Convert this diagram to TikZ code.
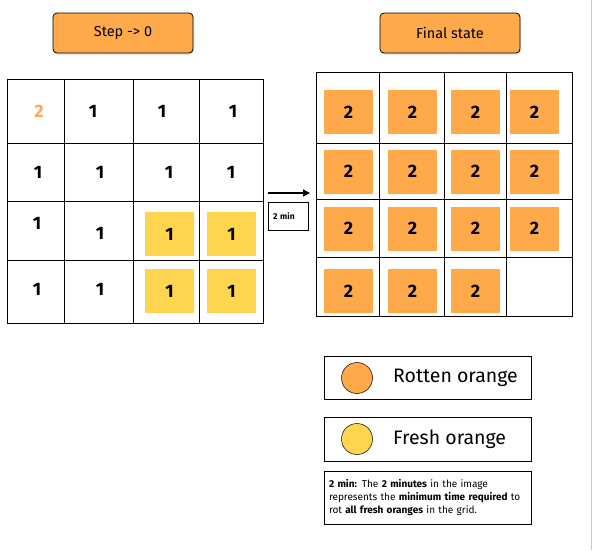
\documentclass[tikz,border=0pt]{standalone}
\usepackage{fontspec}
\setmainfont{Fira Sans}
\usetikzlibrary{positioning, shadows, arrows.meta}
\definecolor{rotten}{HTML}{FFAA4A}
\definecolor{fresh}{HTML}{FFD550}
\tikzset{
	header/.style={draw, line width=0.8pt, rounded corners=4pt, fill=rotten, minimum width=140pt, minimum height=40pt, drop shadow={opacity=0.2, shadow xshift=1pt, shadow yshift=-2pt}, font=\fontsize{14.5}{16}\selectfont},
	num/.style={inner sep=0pt, font=\fontsize{18}{20}\selectfont\bfseries},
	rotcell/.style={num, fill=rotten, minimum width=49pt, minimum height=44pt},
	freshcell/.style={num, fill=fresh, minimum width=49pt, minimum height=44pt},
	legendbox/.style={draw, line width=0.8pt, minimum width=207pt},
	dot/.style={draw, circle, line width=0.5pt, minimum size=31pt, inner sep=0pt},
	legendtext/.style={anchor=west, inner sep=0pt, font=\fontsize{19.5}{22}\selectfont}
}
\begin{document}
\begin{tikzpicture}[x=1pt, y=-1pt]
	\useasboundingbox (0,0) rectangle (592,550);
	\draw[color=gray!45] (591,0) -- (591,550);
	% headers
	\node[header] (step) at (123,33) {Step -> 0};
	\node[header] (final) at (450,33) {Final state};
	% start grid
	\draw[line width=0.9pt] (7,79) rectangle (263,323);
	\foreach \x in {64,133,199}
		\draw[line width=0.9pt] (\x,79) -- (\x,323);
	\foreach \y in {143,201,260}
		\draw[line width=0.9pt] (7,\y) -- (263,\y);
	\node[num, color=rotten] (l11) at (39,111) {2};
	\foreach \x/\c in {93/2,162/3,233/4}
		\node[num] (l1\c) at (\x,111) {1};
	\foreach \x/\c in {38/1,100/2,169/3,231/4}
		\node[num] (l2\c) at (\x,172) {1};
	\node[num] (l31) at (37,223) {1};
	\node[num] (l32) at (100,233) {1};
	\node[num] (l41) at (37,289) {1};
	\node[num] (l42) at (100,289) {1};
	\node[freshcell] (l33) at (169.5,234) {1};
	\node[freshcell] (l34) at (231.5,234) {1};
	\node[freshcell] (l43) at (169.5,291) {1};
	\node[freshcell] (l44) at (231.5,291) {1};
	% time step
	\coordinate (from) at (268,193);
	\coordinate (to) at (310,193);
	\draw[-{Triangle[length=7pt, width=7pt]}, line width=1.4pt] (from) -- (to);
	\node[draw, line width=0.6pt, minimum width=40pt, minimum height=28pt, text width=30pt, align=left, inner xsep=4pt, font=\fontsize{8.5}{10}\selectfont\bfseries] (timebox) at (288,216) {2 min};
	% final grid
	\draw[line width=0.9pt] (316,72) rectangle (572,316);
	\foreach \x in {379,444,506}
		\draw[line width=0.9pt] (\x,72) -- (\x,316);
	\foreach \y in {143,199,257}
		\draw[line width=0.9pt] (316,\y) -- (572,\y);
	\foreach \y/\r in {112/1,171.5/2,228.5/3}
		\foreach \x/\c in {348.5/1,412.5/2,475.5/3,534.5/4}
			\node[rotcell] (r\r\c) at (\x,\y) {2};
	\foreach \x/\c in {348.5/1,412.5/2,475.5/3}
		\node[rotcell] (r4\c) at (\x,291) {2};
	% legend
	\node[legendbox, minimum height=43pt] (rotkey) at (427.5,377.5) {};
	\node[dot, fill=rotten] (rotdot) at (357,378) {};
	\node[legendtext] (rottext) at (393,378) {Rotten orange};
	\node[legendbox, minimum height=44pt] (freshkey) at (427.5,439) {};
	\node[dot, fill=fresh] (freshdot) at (357,439) {};
	\node[legendtext] (freshtext) at (393,439) {Fresh orange};
	\node[legendbox, minimum height=53pt, text width=197pt, align=left, inner sep=5pt, font=\fontsize{10}{13}\selectfont] (note) at (427.5,497.5) {\textbf{2 min:} The \textbf{2 minutes} in the image\\ represents the \textbf{minimum time required} to\\ rot \textbf{all fresh oranges} in the grid.};
\end{tikzpicture}
\end{document}
